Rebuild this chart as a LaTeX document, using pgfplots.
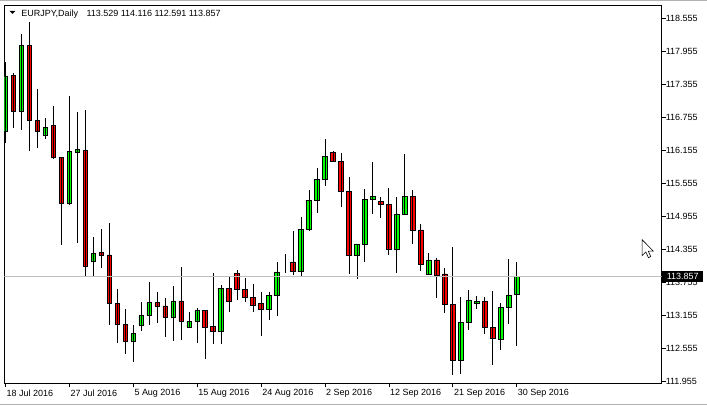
\documentclass[border=0pt]{standalone}
\usepackage{pgfplots}
\pgfplotsset{compat=1.18}
\usepackage{pgfplotstable}
\usepackage{fontspec}
\setmainfont{Liberation Sans}
\definecolor{mtgreen}{RGB}{0,255,0}
\definecolor{mtred}{RGB}{255,0,0}
\definecolor{bidgray}{RGB}{192,192,192}

\pgfplotstableread{
k O H L C
0 116.493 117.763 116.288 117.503
1 117.516 117.552 116.566 116.856
2 116.856 118.265 116.524 118.060
3 118.060 118.477 116.131 116.700
4 116.700 117.268 116.203 116.493
5 116.421 116.736 116.356 116.573
6 116.597 116.965 115.993 116.022
7 116.029 116.029 114.439 115.188
8 115.182 117.141 115.152 116.125
9 116.120 116.851 114.475 116.162
10 116.156 116.887 113.877 114.049
11 114.136 114.579 113.877 114.276
12 114.294 114.729 114.022 114.245
13 114.252 114.825 112.988 113.375
14 113.375 113.641 112.662 112.994
15 112.994 113.278 112.462 112.686
16 112.686 112.988 112.305 112.820
17 112.965 113.400 112.880 113.146
18 113.146 113.768 112.988 113.382
19 113.382 113.587 113.025 113.327
20 113.327 113.478 112.771 113.121
21 113.121 113.695 112.698 113.418
22 113.418 114.035 112.716 113.048
23 112.939 113.224 112.921 113.048
24 113.048 113.297 112.662 113.237
25 113.237 113.260 112.359 112.939
26 112.952 113.931 112.644 112.867
27 112.867 113.714 112.644 113.636
28 113.636 113.877 113.224 113.411
29 113.922 113.986 113.442 113.618
30 113.618 113.841 113.393 113.473
31 113.473 113.732 113.211 113.338
32 113.364 113.587 112.776 113.255
33 113.255 113.581 113.079 113.509
34 113.509 114.125 113.139 113.944
35 114.125 114.270 113.926 114.125
36 114.125 114.693 113.882 113.962
37 113.962 114.941 113.859 114.711
38 114.711 115.436 114.687 115.249
39 115.249 115.835 115.006 115.630
40 115.630 116.361 115.496 116.047
41 116.120 116.143 115.950 115.957
42 115.957 116.107 115.115 115.413
43 115.413 115.666 113.908 114.252
44 114.252 114.452 113.817 114.452
45 114.452 115.449 114.118 115.268
46 115.268 115.944 115.001 115.322
47 115.231 115.304 114.923 115.177
48 115.177 115.467 114.252 114.361
49 114.361 115.304 113.926 114.996
50 114.996 116.089 114.977 115.322
51 115.322 115.431 114.452 114.706
52 114.706 114.814 113.962 114.089
53 113.908 114.288 113.890 114.162
54 114.162 114.198 113.465 113.890
55 113.908 114.016 113.201 113.346
56 113.346 114.397 112.076 112.330
57 112.330 113.491 112.094 113.019
58 113.019 113.618 112.892 113.436
59 113.364 113.509 113.273 113.400
60 113.400 113.491 112.820 112.929
61 112.929 113.599 112.258 112.729
62 112.711 113.382 112.530 113.291
63 113.291 114.180 113.001 113.527
64 113.529 114.116 112.591 113.857
}\ohlc

\begin{document}
\begin{tikzpicture}[x=1pt,y=1pt]
\fill[white] (0,0) rectangle (707,407);
\draw[gray!60, line width=1pt] (0,406.5) -- (707,406.5);
\draw[gray!60, line width=1pt] (0,2) -- (707,2);
\begin{axis}[
  at={(4pt,23pt)}, anchor=south west,
  scale only axis, width=658pt, height=379pt,
  xmin=-0.125, xmax=82.125, ymin=111.919, ymax=118.791,
  ybar stacked, bar width=0.58,
  axis line style={black, line width=0.8pt},
  tick align=outside, major tick length=4pt,
  tick style={black, line width=0.8pt},
  xtick={0,8,...,64},
  xticklabels={18 Jul 2016, 27 Jul 2016, 5 Aug 2016, 15 Aug 2016, 24 Aug 2016, 2 Sep 2016, 12 Sep 2016, 21 Sep 2016, 30 Sep 2016},
  xtick pos=left,
  ytick={111.955,112.555,113.155,113.755,114.355,114.955,115.555,116.155,116.755,117.355,117.955,118.555},
  yticklabels={111.955,112.555,113.155,113.755,114.355,114.955,115.555,116.155,116.755,117.355,117.955,118.555},
  ytick pos=right, yticklabel pos=right,
  ticklabel style={font=\fontsize{9}{10}\selectfont, text=black},
  xticklabel style={anchor=north west, inner sep=0pt, xshift=1pt, yshift=-2pt},
  yticklabel style={anchor=west, inner sep=0pt},
]
\draw[bidgray, line width=1pt] (axis cs:-0.125,113.857) -- (axis cs:82.125,113.857);
\addplot[draw=none, fill=none,
  error bars/.cd, y dir=both, y explicit, error mark=none,
  error bar style={draw=black, line width=1pt}]
  table[x=k, y expr={min(\thisrow{O},\thisrow{C})},
        y error plus expr={\thisrow{H}-min(\thisrow{O},\thisrow{C})},
        y error minus expr={min(\thisrow{O},\thisrow{C})-\thisrow{L}}] {\ohlc};
\addplot[draw=black, line width=0.8pt, fill=mtgreen]
  table[x=k, y expr={max(\thisrow{C}-\thisrow{O},0)}] {\ohlc};
\addplot[draw=black, line width=0.8pt, fill=mtred]
  table[x=k, y expr={max(\thisrow{O}-\thisrow{C},0)}] {\ohlc};
\coordinate (bid) at (axis cs:82.125,113.857);
\end{axis}
\node[fill=black, text=white, anchor=west, inner xsep=4.5pt, inner ysep=0pt,
  minimum height=10.5pt, font=\fontsize{9}{10}\selectfont] at ([xshift=0.5pt]bid) {113.857};
% header
\fill[black] (9,396) -- (15,396) -- (12,393) -- cycle;
\node[anchor=base west, inner sep=0pt, font=\fontsize{9}{10}\selectfont] at (20.7,390.5) {EURJPY,Daily};
\node[anchor=base west, inner sep=0pt, font=\fontsize{9}{10}\selectfont] at (86,390.5) {113.529 114.116 112.591 113.857};
% mouse cursor
\filldraw[fill=white, draw=black, line width=0.6pt]
  (642.5,167) -- (642.5,151) -- (646.2,154.7) -- (648.8,149) -- (651.2,150) -- (648.7,155.5) -- (653.7,155.5) -- cycle;
\end{tikzpicture}
\end{document}
